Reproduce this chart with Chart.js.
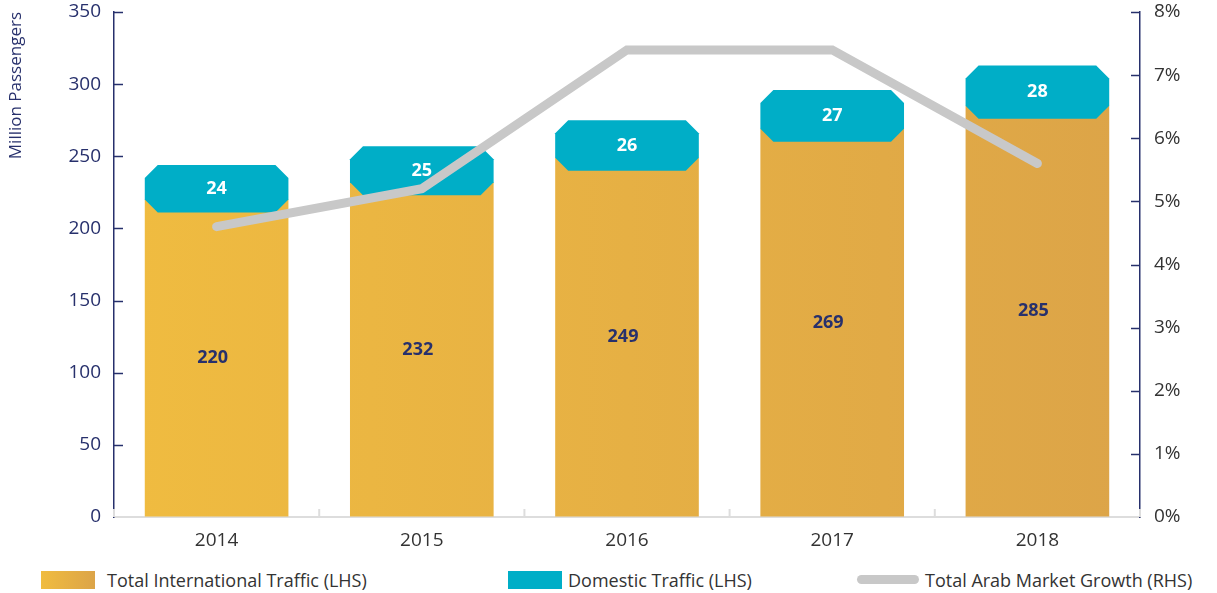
<!DOCTYPE html>
<html>
<head>
<meta charset="utf-8">
<script src="https://cdn.jsdelivr.net/npm/chart.js@4"></script>
<style>
  body { margin: 0; background: #fff; font-family: "Open Sans", sans-serif; }
  #wrap { position: relative; width: 1217px; height: 593px; }
  #chart { position: absolute; left: 0; top: 0; }
  .leg { position: absolute; top: 569px; height: 22px; display: flex; align-items: center; color: #333; font-size: 18px; white-space: nowrap; }
  .swatch { position: absolute; }
</style>
</head>
<body>
<div id="wrap">
  <canvas id="chart" width="1217" height="550"></canvas>
  <div class="swatch" style="left:41px;top:571px;width:54px;height:18px;background:linear-gradient(90deg,#F0BC40,#DCA448);"></div>
  <div class="leg" style="left:107px;">Total International Traffic (LHS)</div>
  <div class="swatch" style="left:508px;top:571px;width:54px;height:18px;background:#00AEC7;"></div>
  <div class="leg" style="left:568px;">Domestic Traffic (LHS)</div>
  <div class="swatch" style="left:857px;top:575px;width:62px;height:9px;border-radius:5px;background:#C8C8C8;"></div>
  <div class="leg" style="left:925px;">Total Arab Market Growth (RHS)</div>
</div>
<script>
// traffic data (million passengers) and growth (%)
const years = ["2014", "2015", "2016", "2017", "2018"];
const internationalTraffic = [220, 232, 249, 269, 285];
const domesticTraffic = [24, 25, 26, 27, 28];
const marketGrowth = [4.6, 5.2, 7.4, 7.4, 5.6];

const NAVY = "#27306C";
const TEAL = "#00AEC7";
const FONT = "Open Sans";
const CHAMFER = 13;

function orangeGradient(context) {
    const chart = context.chart;
    const area = chart.chartArea;
    if (!area) return "#E8B444";
    const g = chart.ctx.createLinearGradient(area.left, 0, area.right, 0);
    g.addColorStop(0, "#F0BC40");
    g.addColorStop(1, "#DCA448");
    return g;
}

// draws the chamfered domestic blocks, axis tick marks and value labels
const customDraw = {
    id: "customDraw",
    afterDatasetDraw(chart, args) {
        // right after the international bars, before the growth line
        if (args.index !== 0) return;
        const ctx = chart.ctx;
        ctx.save();
        ctx.fillStyle = TEAL;
        chart.getDatasetMeta(1).data.forEach(function(el) {
            const c = CHAMFER;
            const l = el.x - el.width / 2, r = el.x + el.width / 2;
            const t = el.y, b = el.base + c;
            ctx.beginPath();
            ctx.moveTo(l + c, t);
            ctx.lineTo(r - c, t);
            ctx.lineTo(r, t + c);
            ctx.lineTo(r, b - c);
            ctx.lineTo(r - c, b);
            ctx.lineTo(l + c, b);
            ctx.lineTo(l, b - c);
            ctx.lineTo(l, t + c);
            ctx.closePath();
            ctx.fill();
        });
        ctx.restore();
    },
    afterDraw(chart) {
        const ctx = chart.ctx;
        const area = chart.chartArea;
        ctx.save();
        // inward ticks on both value axes
        ctx.strokeStyle = NAVY;
        ctx.lineWidth = 1.5;
        ["y", "y1"].forEach(function(id) {
            const s = chart.scales[id];
            s.ticks.forEach(function(t) {
                const py = Math.round(s.getPixelForValue(t.value)) + 0.5;
                if (py > area.bottom - 2) return;
                ctx.beginPath();
                if (id === "y") { ctx.moveTo(area.left, py); ctx.lineTo(area.left + 9, py); }
                else { ctx.moveTo(area.right, py); ctx.lineTo(area.right - 9, py); }
                ctx.stroke();
            });
        });
        // category boundary ticks on the x axis
        ctx.strokeStyle = "#DDDDDD";
        ctx.lineWidth = 2;
        const n = years.length;
        for (let i = 0; i <= n; i++) {
            const px = area.left + i * (area.right - area.left) / n;
            ctx.beginPath();
            ctx.moveTo(px, area.bottom);
            ctx.lineTo(px, area.bottom - 8);
            ctx.stroke();
        }
        // value labels
        ctx.textAlign = "center";
        ctx.textBaseline = "middle";
        ctx.font = "bold 18px '" + FONT + "'";
        chart.getDatasetMeta(0).data.forEach(function(el, i) {
            ctx.fillStyle = NAVY;
            ctx.fillText(internationalTraffic[i], el.x - 4, (el.y + el.base) / 2);
        });
        chart.getDatasetMeta(1).data.forEach(function(el, i) {
            ctx.fillStyle = "#fff";
            ctx.fillText(domesticTraffic[i], el.x, (el.y + el.base + CHAMFER) / 2);
        });
        ctx.restore();
    }
};

function noVerticalPad(s) { s.paddingTop = 0; s.paddingBottom = 0; }

const chart = new Chart(document.getElementById("chart"), {
    type: "bar",
    data: {
        labels: years,
        datasets: [{
            label: "Total International Traffic (LHS)",
            data: internationalTraffic,
            backgroundColor: orangeGradient,
            yAxisID: "y",
            order: 1
        }, {
            label: "Domestic Traffic (LHS)",
            data: domesticTraffic,
            backgroundColor: "rgba(0,0,0,0)",
            yAxisID: "y",
            order: 1
        }, {
            type: "line",
            label: "Total Arab Market Growth (RHS)",
            data: marketGrowth,
            borderColor: "#C8C8C8",
            borderWidth: 9,
            borderCapStyle: "round",
            borderJoinStyle: "miter",
            pointRadius: 0,
            tension: 0,
            yAxisID: "y1",
            order: 0
        }]
    },
    options: {
        responsive: false,
        animation: false,
        events: [],
        layout: { padding: { top: 12, left: 0, right: 0, bottom: 0 } },
        datasets: { bar: { barPercentage: 0.7, categoryPercentage: 1 } },
        plugins: { legend: { display: false }, tooltip: { enabled: false } },
        scales: {
            x: {
                stacked: true,
                grid: { display: false, drawTicks: false },
                border: { color: "#DDDDDD", width: 2 },
                ticks: { color: "#333", font: { family: FONT, size: 19 }, padding: 12 },
                afterFit: function(s) { s.height = 33; s.paddingLeft = 0; s.paddingRight = 0; }
            },
            y: {
                stacked: true,
                min: 0, max: 350,
                position: "left",
                grid: { drawOnChartArea: false, drawTicks: false },
                border: { color: NAVY, width: 1.5 },
                ticks: { stepSize: 50, color: NAVY, font: { family: FONT, size: 19 }, padding: 13 },
                title: {
                    display: true, text: "Million Passengers", align: "end",
                    color: NAVY, font: { family: FONT, size: 17 }, padding: { top: 6, bottom: 0 }
                },
                afterFit: function(s) { s.width = 114; noVerticalPad(s); }
            },
            y1: {
                min: 0, max: 8,
                position: "right",
                grid: { drawOnChartArea: false, drawTicks: false },
                border: { color: NAVY, width: 1.5 },
                ticks: {
                    stepSize: 1, color: "#333", font: { family: FONT, size: 19 }, padding: 14,
                    callback: function(v) { return v + "%"; }
                },
                afterFit: function(s) { s.width = 77; noVerticalPad(s); }
            }
        }
    },
    plugins: [customDraw]
});
</script>
</body>
</html>
